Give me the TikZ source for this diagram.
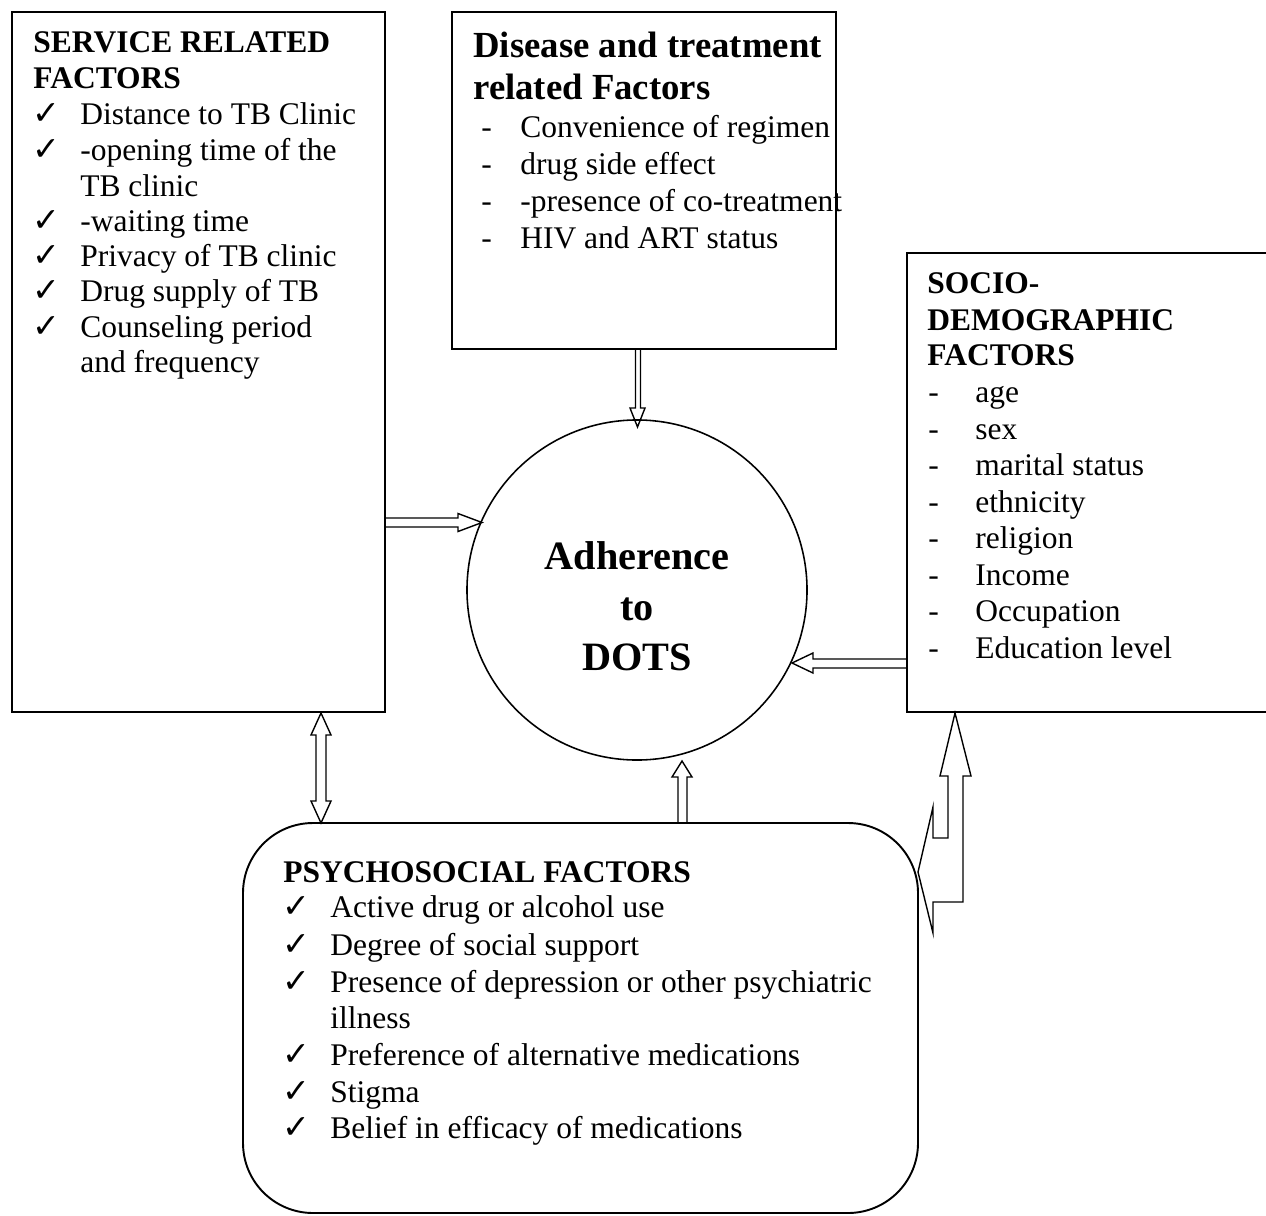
\documentclass[tikz,border=0pt]{standalone}
\usepackage{fontspec}
\setmainfont{Liberation Serif}
\newfontfamily\chkfont{DejaVu Sans}
\newcommand\ck{{\chkfont\fontsize{19}{21}\selectfont ✓}}
\begin{document}
\begin{tikzpicture}[x=0.5714pt,y=-0.5714pt,
  box/.style={draw, line width=1.1pt},
  txt/.style={anchor=base west, inner sep=0pt, font=\fontsize{18}{21}\selectfont},
  ttl/.style={anchor=base west, inner sep=0pt, font=\fontsize{18}{21}\selectfont\bfseries},
  dttl/.style={anchor=base west, inner sep=0pt, font=\fontsize{21}{24}\selectfont\bfseries},
  ctr/.style={anchor=base, inner sep=0pt, font=\fontsize{23}{27}\selectfont\bfseries},
  blk/.style={draw, line width=0.8pt, line join=miter}]
\useasboundingbox (0,0) rectangle (1266,1215);

% boxes
\path[box] (12,12) rectangle (385,712);
\path[box] (452,12) rectangle (836,349);
\path[box] (907,253) rectangle (1275,712);
\path[box, rounded corners=40pt] (243,823) rectangle (918,1213);
\node[circle, draw, line width=0.9pt, minimum size=194.3pt, inner sep=0pt] (adh) at (637,590) {};

% centre text
\node[ctr] (a1) at (637,569) {Adherence};
\node[ctr] (a2) at (637,620) {to};
\node[ctr] (a3) at (637,670) {DOTS};

% service related
\node[ttl] (s1) at (33,53) {SERVICE RELATED};
\node[ttl] (s2) at (33,89) {FACTORS};
\foreach \y in {125,161,231,266,301,337} \node[txt] (sc\y) at (32,\y) {\ck};
\foreach \y/\t [count=\i] in {125/Distance to TB Clinic,161/-opening time of the,196/TB clinic,231/-waiting time,266/Privacy of TB clinic,301/Drug supply of TB,337/Counseling period,372/and frequency}
  \node[txt] (st\i) at (80,\y) {\t};

% disease and treatment
\node[dttl] (d1) at (473,58) {Disease and treatment};
\node[dttl] (d2) at (473,100) {related Factors};
\foreach \y/\t [count=\i] in {138/Convenience of regimen,175/drug side effect,211/-presence of co-treatment,248/HIV and ART status}
  {\node[txt] (dd\i) at (481,\y) {-};
   \node[txt] (dt\i) at (520,\y) {\t};}

% socio-demographic
\node[ttl] (g1) at (927,293) {SOCIO-};
\node[ttl] (g2) at (927,330) {DEMOGRAPHIC};
\node[ttl] (g3) at (927,365) {FACTORS};
\foreach \y/\t [count=\i] in {402/age,439/sex,475/marital status,512/ethnicity,548/religion,585/Income,621/Occupation,658/Education level}
  {\node[txt] (gd\i) at (928,\y) {-};
   \node[txt] (gt\i) at (975,\y) {\t};}

% psychosocial
\node[ttl] (p0) at (283,882) {PSYCHOSOCIAL FACTORS};
\foreach \y in {917,955,992,1065,1102,1138} \node[txt] (pc\y) at (282,\y) {\ck};
\foreach \y/\t [count=\i] in {917/Active drug or alcohol use,955/Degree of social support,992/Presence of depression or other psychiatric,1028/illness,1065/Preference of alternative medications,1102/Stigma,1138/Belief in efficacy of medications}
  \node[txt] (pt\i) at (330,\y) {\t};

% block arrows
\path[blk] (635.5,349) -- (635.5,408) -- (630,408) -- (637.5,427) -- (645,408) -- (640.5,408) -- (640.5,349);
\path[blk] (386,518) -- (458,518) -- (458,513.5) -- (482,522.5) -- (458,531.5) -- (458,527) -- (386,527);
\path[blk] (907,659) -- (813,659) -- (813,653) -- (792,663) -- (813,673) -- (813,668) -- (907,668);
\path[blk] (316,735) -- (311,735) -- (321,713) -- (331,735) -- (326,735) -- (326,801) -- (331,801) -- (321,823) -- (311,801) -- (316,801) -- cycle;
\path[blk] (678,823) -- (678,777) -- (672,777) -- (682,761) -- (692,777) -- (687,777) -- (687,823);
\path[blk] (955,713) -- (971,776) -- (963,776) -- (963,902) -- (933,902) -- (933,933) -- (918,872) -- (933,807) -- (933,838) -- (948,838) -- (948,776) -- (940,776) -- cycle;
\end{tikzpicture}
\end{document}
